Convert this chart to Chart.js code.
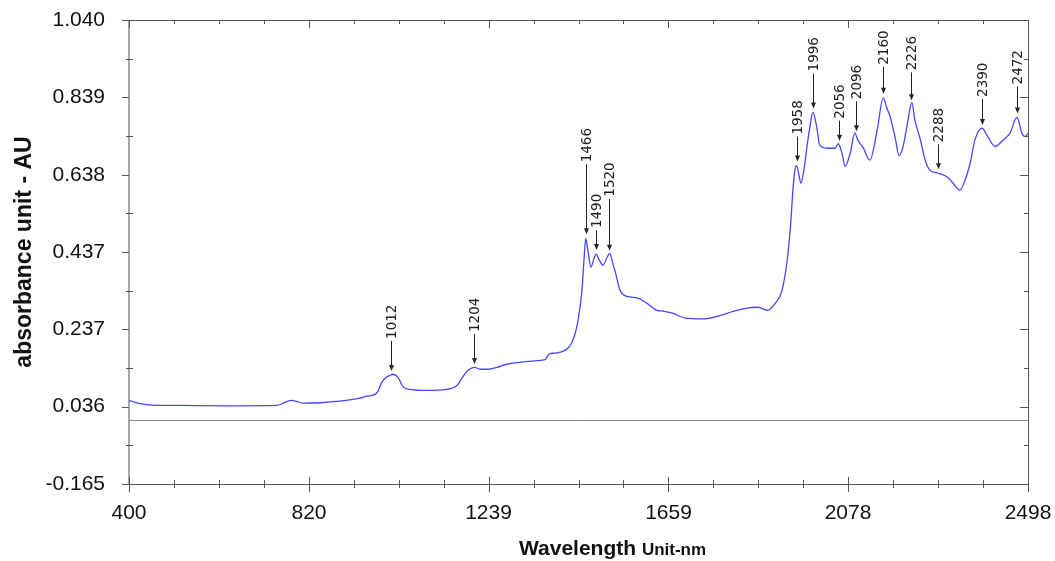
<!DOCTYPE html>
<html>
<head>
<meta charset="utf-8">
<script src="https://cdn.jsdelivr.net/npm/chart.js@4.4.1/dist/chart.umd.min.js"></script>
<style>
  body { margin: 0; background: #fff; }
  #wrap { width: 1055px; height: 561px; }
</style>
</head>
<body>
<div id="wrap"><canvas id="spectrum" width="1055" height="561"></canvas></div>
<script>
// wavelength (nm) and absorbance
const wavelengths = [400, 426, 456, 519, 636, 745, 764, 780, 792, 806, 846, 892, 939, 955, 969, 979, 990, 1000, 1009, 1016, 1028, 1039, 1056, 1095, 1142, 1165, 1177, 1189, 1207, 1219, 1238, 1259, 1282, 1312, 1347, 1371, 1380, 1394, 1417, 1434, 1448, 1457, 1462, 1466, 1471, 1478, 1485, 1490, 1497, 1506, 1515, 1522, 1528, 1535, 1546, 1562, 1588, 1609, 1632, 1646, 1670, 1698, 1740, 1772, 1810, 1842, 1868, 1891, 1908, 1924, 1936, 1943, 1950, 1954, 1958, 1963, 1968, 1975, 1982, 1989, 1996, 2005, 2012, 2029, 2048, 2055, 2064, 2071, 2083, 2094, 2101, 2113, 2129, 2146, 2160, 2169, 2176, 2188, 2197, 2206, 2218, 2227, 2234, 2246, 2258, 2269, 2288, 2311, 2323, 2339, 2351, 2363, 2374, 2391, 2402, 2421, 2440, 2456, 2472, 2484, 2491, 2498];
const absorbance = [0.052, 0.044, 0.040, 0.039, 0.038, 0.039, 0.047, 0.052, 0.049, 0.045, 0.046, 0.050, 0.058, 0.063, 0.066, 0.072, 0.099, 0.112, 0.117, 0.120, 0.112, 0.088, 0.081, 0.078, 0.081, 0.090, 0.110, 0.128, 0.138, 0.133, 0.133, 0.138, 0.146, 0.151, 0.155, 0.158, 0.172, 0.175, 0.182, 0.203, 0.260, 0.338, 0.420, 0.473, 0.440, 0.398, 0.420, 0.432, 0.418, 0.403, 0.422, 0.434, 0.412, 0.385, 0.338, 0.322, 0.318, 0.304, 0.286, 0.284, 0.278, 0.266, 0.264, 0.270, 0.283, 0.292, 0.294, 0.286, 0.304, 0.338, 0.416, 0.494, 0.606, 0.650, 0.662, 0.640, 0.616, 0.650, 0.710, 0.762, 0.800, 0.762, 0.715, 0.707, 0.707, 0.719, 0.694, 0.660, 0.694, 0.746, 0.728, 0.709, 0.676, 0.754, 0.838, 0.810, 0.790, 0.735, 0.688, 0.709, 0.780, 0.826, 0.780, 0.733, 0.676, 0.650, 0.642, 0.631, 0.616, 0.598, 0.624, 0.668, 0.728, 0.759, 0.741, 0.712, 0.728, 0.746, 0.787, 0.746, 0.737, 0.746];

const xTicks = [400, 820, 1239, 1659, 2078, 2498];
const yTicks = [-0.165, 0.036, 0.237, 0.437, 0.638, 0.839, 1.040];
const yTickLabels = ['-0.165', '0.036', '0.237', '0.437', '0.638', '0.839', '1.040'];

// labelled peaks and arrow length (px) for each
const peakLabels = [1012, 1204, 1466, 1490, 1520, 1958, 1996, 2056, 2096, 2160, 2226, 2288, 2390, 2472];
const arrowLen = [30, 30, 70, 20, 52, 25, 35, 20, 30, 27, 28, 25, 26, 27];

function valueAt(wl) {
    for (let i = 1; i < wavelengths.length; i++) {
        if (wl <= wavelengths[i]) {
            const t = (wl - wavelengths[i - 1]) / (wavelengths[i] - wavelengths[i - 1]);
            return absorbance[i - 1] + t * (absorbance[i] - absorbance[i - 1]);
        }
    }
    return absorbance[absorbance.length - 1];
}

// no extra room for tick labels, layout padding decides the plot box
function noPad(scale) {
    scale.paddingTop = 0;
    scale.paddingBottom = 0;
    scale.paddingLeft = 0;
    scale.paddingRight = 0;
}

// zero line, box with ticks, peak arrows, x title
const decorations = {
    id: 'decorations',
    beforeDatasetsDraw(chart) {
        const { ctx, chartArea: a, scales: { y } } = chart;
        const y0 = Math.round(y.getPixelForValue(0)) + 0.5;
        ctx.save();
        ctx.strokeStyle = '#8a8a8a';
        ctx.lineWidth = 1;
        ctx.beginPath();
        ctx.moveTo(a.left, y0);
        ctx.lineTo(a.right, y0);
        ctx.stroke();
        ctx.restore();
    },
    afterDatasetsDraw(chart) {
        const { ctx, chartArea: a, scales: { x, y } } = chart;
        ctx.save();

        // box
        ctx.lineWidth = 1;
        ctx.strokeStyle = '#555';
        ctx.beginPath();
        ctx.moveTo(a.left, a.top + 0.5); ctx.lineTo(a.right + 0.5, a.top + 0.5);
        ctx.lineTo(a.right + 0.5, a.bottom + 0.5); ctx.lineTo(a.left, a.bottom + 0.5);
        ctx.stroke();
        ctx.strokeStyle = '#8a8a8a';
        ctx.lineWidth = 1.5;
        ctx.beginPath();
        ctx.moveTo(a.left, a.top); ctx.lineTo(a.left, a.bottom + 1);
        ctx.stroke();

        // ticks
        ctx.lineWidth = 1;
        ctx.strokeStyle = '#555';
        ctx.beginPath();
        for (let i = 0; i < xTicks.length; i++) {
            const px = Math.round(x.getPixelForValue(xTicks[i])) + 0.5;
            ctx.moveTo(px, a.bottom - 7); ctx.lineTo(px, a.bottom + 8);
            ctx.moveTo(px, a.top); ctx.lineTo(px, a.top + 8);
            if (i < xTicks.length - 1) {
                const step = (xTicks[i + 1] - xTicks[i]) / 4;
                for (let k = 1; k < 4; k++) {
                    const mx = Math.round(x.getPixelForValue(xTicks[i] + k * step)) + 0.5;
                    ctx.moveTo(mx, a.bottom - 4); ctx.lineTo(mx, a.bottom + 4);
                    ctx.moveTo(mx, a.top); ctx.lineTo(mx, a.top + 4);
                }
            }
        }
        for (let i = 0; i < yTicks.length; i++) {
            const py = Math.round(y.getPixelForValue(yTicks[i])) + 0.5;
            ctx.moveTo(a.left - 7, py); ctx.lineTo(a.left, py);
            ctx.moveTo(a.right - 8, py); ctx.lineTo(a.right, py);
            if (i < yTicks.length - 1) {
                const my = Math.round(y.getPixelForValue((yTicks[i] + yTicks[i + 1]) / 2)) + 0.5;
                ctx.moveTo(a.left - 3, my); ctx.lineTo(a.left + 4, my);
                ctx.moveTo(a.right - 4, my); ctx.lineTo(a.right, my);
            }
        }
        ctx.stroke();

        // peak arrows
        ctx.strokeStyle = '#222';
        ctx.fillStyle = '#222';
        ctx.font = '13.5px "DejaVu Sans"';
        peakLabels.forEach(function (wl, i) {
            const px = Math.round(x.getPixelForValue(wl)) + 0.5;
            const tip = y.getPixelForValue(valueAt(wl)) - 4;
            const top = tip - arrowLen[i];
            ctx.beginPath();
            ctx.moveTo(px, top); ctx.lineTo(px, tip - 5);
            ctx.stroke();
            ctx.beginPath();
            ctx.moveTo(px - 2.5, tip - 6); ctx.lineTo(px + 2.5, tip - 6); ctx.lineTo(px, tip);
            ctx.closePath();
            ctx.fill();
            ctx.save();
            ctx.translate(px + 1, top - 2);
            ctx.rotate(-Math.PI / 2);
            ctx.textAlign = 'left';
            ctx.textBaseline = 'middle';
            ctx.fillText(String(wl), 0, 0);
            ctx.restore();
        });

        // x axis title
        ctx.fillStyle = '#111';
        ctx.textBaseline = 'alphabetic';
        ctx.textAlign = 'left';
        ctx.font = 'bold 21px "Liberation Sans"';
        const w1 = ctx.measureText('Wavelength ').width;
        const tx = a.left + 390;
        ctx.fillText('Wavelength ', tx, 555);
        ctx.font = 'bold 17px "Liberation Sans"';
        ctx.fillText('Unit-nm', tx + w1, 555);
        ctx.restore();
    }
};

const ctx = document.getElementById('spectrum').getContext('2d');
new Chart(ctx, {
    type: 'line',
    data: {
        datasets: [{
            data: wavelengths.map((w, i) => ({ x: w, y: absorbance[i] })),
            borderColor: '#4646ff',
            borderWidth: 1.3,
            pointRadius: 0,
            fill: false,
            cubicInterpolationMode: 'monotone'
        }]
    },
    options: {
        responsive: false,
        animation: false,
        layout: { padding: { top: 20, right: 27, left: 0, bottom: 0 } },
        plugins: { legend: { display: false }, tooltip: { enabled: false } },
        scales: {
            x: {
                type: 'linear',
                min: 400,
                max: 2498,
                grid: { display: false, drawTicks: false, tickLength: 0 },
                border: { display: false },
                afterBuildTicks: function (scale) { scale.ticks = xTicks.map(v => ({ value: v })); },
                afterFit: function (scale) { scale.height = 77; noPad(scale); },
                ticks: {
                    padding: 17,
                    color: '#111',
                    maxRotation: 0,
                    autoSkip: false,
                    font: { family: '"Liberation Sans"', size: 21 },
                    callback: v => String(v)
                }
            },
            y: {
                min: -0.165,
                max: 1.040,
                grid: { display: false, drawTicks: false, tickLength: 0 },
                border: { display: false },
                afterBuildTicks: function (scale) { scale.ticks = yTicks.map(v => ({ value: v })); },
                afterFit: function (scale) { scale.width = 129; noPad(scale); },
                ticks: {
                    padding: 24,
                    color: '#111',
                    autoSkip: false,
                    font: { family: '"Liberation Sans"', size: 21 },
                    callback: function (v) {
                        const i = yTicks.indexOf(v);
                        return i >= 0 ? yTickLabels[i] : '';
                    }
                },
                title: {
                    display: true,
                    text: 'absorbance unit - AU',
                    color: '#111',
                    padding: { top: 11, bottom: 0 },
                    font: { family: '"Liberation Sans"', size: 23, weight: 'bold' }
                }
            }
        }
    },
    plugins: [decorations]
});
</script>
</body>
</html>
